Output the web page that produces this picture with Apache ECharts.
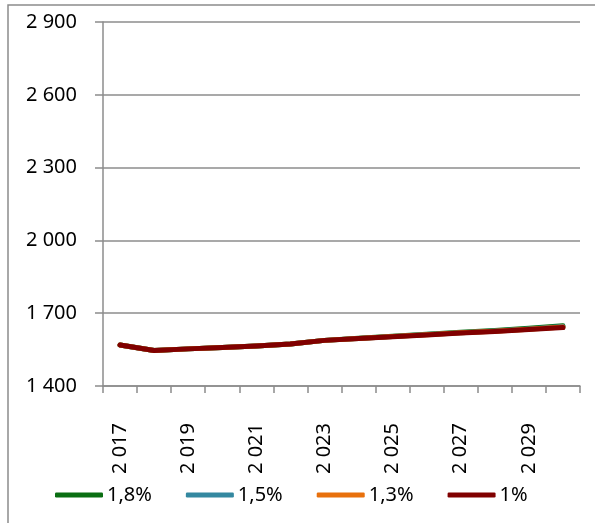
<!DOCTYPE html>
<html>
<head>
<meta charset="utf-8">
<script src="https://cdn.jsdelivr.net/npm/echarts@6/dist/echarts.min.js"></script>
<style>
  html, body { margin: 0; padding: 0; background: #fff; }
  #chart { width: 595px; height: 523px; }
</style>
</head>
<body>
<div id="chart"></div>
<script>
// Years on the category axis
const years = ['2017','2018','2019','2020','2021','2022','2023','2024','2025','2026','2027','2028','2029','2030'];

// Projections for each growth rate
const growth18 = [1569, 1546, 1553, 1559, 1565, 1573, 1588, 1597, 1605, 1613, 1621, 1629, 1638, 1648];
const growth15 = [1569, 1546, 1553, 1559, 1565, 1573, 1588, 1596, 1604, 1612, 1619, 1627, 1635, 1645];
const growth13 = [1569, 1546, 1553, 1559, 1565, 1573, 1588, 1596, 1604, 1611, 1619, 1626, 1634, 1643];
const growth10 = [1569, 1546, 1553, 1559, 1565, 1573, 1588, 1596, 1603, 1610, 1618, 1625, 1633, 1641];

const seriesNames = ['1,8%', '1,5%', '1,3%', '1%'];
const seriesColors = ['#0a6e12', '#3488a0', '#e8700c', '#800000'];
const seriesData = [growth18, growth15, growth13, growth10];

// Value axis range
const yMin = 1400, yMax = 2900, yStep = 300;

const FONT = '"Noto Sans", "Open Sans", sans-serif';

// "2 900" style thousands grouping
function groupThousands(v) {
  return String(v).replace(/\B(?=(\d{3})+(?!\d))/g, ' ');
}

const chart = echarts.init(document.getElementById('chart'), null, { renderer: 'canvas' });

chart.setOption({
  animation: false,
  backgroundColor: '#ffffff',
  graphic: [{
    type: 'rect',
    shape: { x: 8, y: 5, width: 700, height: 700 },
    style: { fill: 'none', stroke: '#8c8c8c', lineWidth: 1.5 },
    silent: true,
    z: -1
  }],
  grid: { left: 103, right: 15, top: 22, bottom: 137, containLabel: false },
  legend: {
    top: 480,
    left: 50,
    itemWidth: 48,
    itemHeight: 5,
    itemGap: 34,
    icon: 'roundRect',
    textStyle: { fontFamily: FONT, fontSize: 20, color: '#000', padding: [0, 0, 0, -1] },
    data: seriesNames.map((n, i) => ({ name: n, itemStyle: { color: seriesColors[i] } }))
  },
  xAxis: {
    type: 'category',
    data: years,
    boundaryGap: true,
    axisLine: { show: true, lineStyle: { color: '#8c8c8c', width: 1.5 } },
    axisTick: { show: true, alignWithLabel: false, interval: 0, length: 7, lineStyle: { color: '#8c8c8c', width: 1.5 } },
    axisLabel: {
      interval: 1,
      rotate: 90,
      margin: 37,
      fontFamily: FONT,
      fontSize: 20,
      color: '#000',
      formatter: groupThousands
    },
    splitLine: { show: false }
  },
  yAxis: {
    type: 'value',
    min: yMin,
    max: yMax,
    interval: yStep,
    axisLine: { show: true, lineStyle: { color: '#8c8c8c', width: 1.5 } },
    axisTick: { show: true, inside: false, length: 8, lineStyle: { color: '#8c8c8c', width: 1.5 } },
    axisLabel: {
      margin: 26,
      fontFamily: FONT,
      fontSize: 20,
      color: '#000',
      formatter: groupThousands
    },
    splitLine: { show: true, lineStyle: { color: '#8c8c8c', width: 1.5 } }
  },
  series: seriesNames.map((n, i) => ({
    name: n,
    type: 'line',
    data: seriesData[i],
    showSymbol: false,
    symbol: 'none',
    smooth: false,
    lineStyle: { color: seriesColors[i], width: 5, cap: 'round', join: 'round' },
    itemStyle: { color: seriesColors[i] },
    z: 2 + i
  }))
});
</script>
</body>
</html>
